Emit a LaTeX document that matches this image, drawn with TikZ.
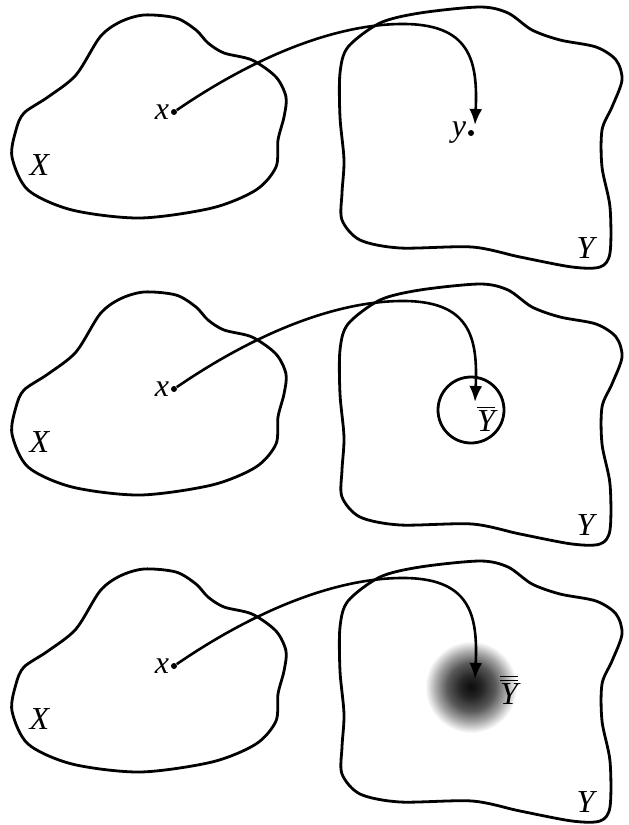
\documentclass[tikz,border=0pt]{standalone}
\usepackage{fontspec}
\setmainfont{Liberation Serif}
\usepackage{tikz}
\usetikzlibrary{positioning,arrows.meta}
\pgfdeclareradialshading{haze}{\pgfpoint{0bp}{0bp}}{%
    color(0bp)=(black!95); color(6bp)=(black!85); color(13bp)=(black!65);
    color(19bp)=(black!35); color(25bp)=(white); color(50bp)=(white)}
\tikzset{
    region/.style={
        line width=1.4pt, line join=round
    },
    mapping/.style={
        line width=1.3pt, -{Latex[length=8pt, width=6.5pt]}
    },
    dot/.style={
        circle, fill=black, inner sep=0pt, minimum size=3pt
    },
    lbl/.style={
        font=\fontsize{16}{19}\selectfont, inner sep=1pt
    },
    smalllbl/.style={
        font=\fontsize{16}{19}\selectfont, inner sep=0.5pt
    }
}

\begin{document}
\begin{tikzpicture}[x=0.5pt, y=-0.5pt]
    \useasboundingbox (0,0) rectangle (628,825);
    % Targets
    \node[dot] (ydot) at (471,133) {};
    \node[smalllbl, left=0pt of ydot] (ylab) {\textit{y}};
    \node[circle, draw, region, minimum size=33pt, inner sep=0pt] (ball) at (471,410) {};
    \node[lbl] (ybar) at (486,419) {$\overline{\textit{Y}}$};
    \node[circle, shade, shading=haze, minimum size=46pt, inner sep=0pt] (blur) at (471,687) {};
    \node[lbl] (ybarbar) at (509,690) {$\overline{\overline{\textit{Y}}}$};
    % Panels
    \foreach \p in {0,1,2} {
        \begin{scope}[shift={(0,\p*277)}]
            \draw[region] plot[smooth cycle] coordinates {
                (24,113) (48,97) (76,75) (100,37) (120,22) (144,15) (176,18)
                (196,30) (208,43) (224,53) (252,60) (276,77) (286,97) (284,117)
                (278,140) (276,167) (256,190) (212,208) (140,218) (72,210)
                (28,190) (12,157) (16,130)};
            \draw[region] plot[smooth cycle] coordinates {
                (348,47) (380,23) (420,13) (480,7) (508,13) (532,30) (560,40)
                (596,47) (616,60) (622,80) (612,107) (602,130) (602,167)
                (610,207) (610,253) (600,267) (572,267) (520,257) (472,247)
                (400,248) (360,240) (342,220) (342,193) (344,160) (340,117)
                (340,73)};
            \node[lbl] (Xlab\p) at (40,165) {\textit{X}};
            \node[lbl] (Ylab\p) at (587,248) {\textit{Y}};
            \node[dot] (xdot\p) at (174,112) {};
            \node[smalllbl, left=0pt of xdot\p] (xlab\p) {\textit{x}};
            \coordinate (tip\p) at (475,125);
            \draw[mapping] (xdot\p) .. controls (250,60) and (330,25) .. (400,24)
                .. controls (470,23) and (478,60) .. (tip\p);
        \end{scope}
    }
\end{tikzpicture}
\end{document}
